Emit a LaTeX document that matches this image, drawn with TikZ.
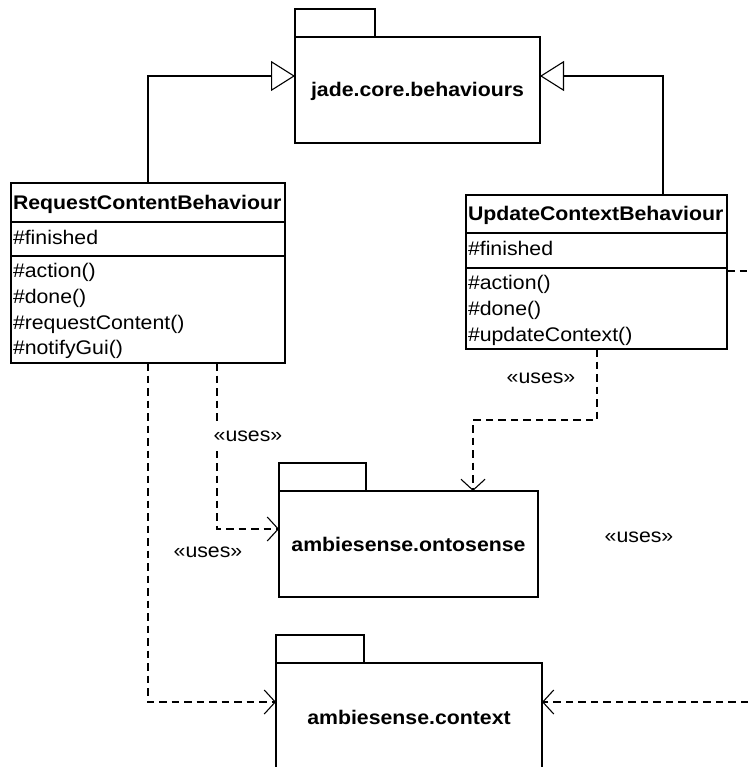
\documentclass[tikz,border=0pt]{standalone}
\usepackage{fontspec}
\setmainfont{Liberation Sans}[FakeStretch=1.08]
\usetikzlibrary{arrows.meta}

\begin{document}
\begin{tikzpicture}[x=1pt,y=-1pt,
  every node/.style={font=\fontsize{19.7}{25.5}\selectfont, inner sep=0pt, outer sep=0pt},
  box/.style={draw, line width=1.3pt, rectangle, anchor=north west},
  pkgname/.style={box, font=\fontsize{19.7}{25.5}\selectfont\bfseries, text height=14pt, text depth=0pt},
  divider/.style={line width=1.3pt},
  member/.style={anchor=base west},
  classname/.style={anchor=base west, font=\fontsize{19.7}{25.5}\selectfont\bfseries},
  gen/.style={line width=1.1pt, -{Triangle[open, length=24pt, width=30pt]}},
  dep/.style={line width=1.1pt, dash pattern=on 7.5pt off 5pt, -{Straight Barb[length=11pt, width=24pt]}},
  deptail/.style={line width=1.1pt, dash pattern=on 7.5pt off 5pt},
  uses/.style={text depth=0pt}
]
\useasboundingbox (0,0) rectangle (748,767);

% packages
\node[box, minimum width=80, minimum height=28] (jadeTab) at (295,9) {};
\node[pkgname, minimum width=245, minimum height=106] (jade) at (295,37) {jade.core.behaviours};

\node[box, minimum width=87, minimum height=28] (ontoTab) at (279,463) {};
\node[pkgname, minimum width=259, minimum height=106] (onto) at (279,491) {ambiesense.ontosense};

\node[box, minimum width=88, minimum height=28] (ctxTab) at (276,635) {};
\node[pkgname, minimum width=266, minimum height=108] (ctx) at (276,663) {ambiesense.context};

% class RequestContentBehaviour
\node[box, minimum width=274, minimum height=180] (rcb) at (11,183) {};
\draw[divider] ([yshift=-39pt]rcb.north west) -- ([yshift=-39pt]rcb.north east);
\draw[divider] ([yshift=-73pt]rcb.north west) -- ([yshift=-73pt]rcb.north east);
\node[classname] (rcbName) at (13,210) {RequestContentBehaviour};
\node[member] (rcbA1) at (13,244) {\#finished};
\node[member] (rcbO1) at (13,277) {\#action()};
\node[member] (rcbO2) at (13,303) {\#done()};
\node[member] (rcbO3) at (13,329) {\#requestContent()};
\node[member] (rcbO4) at (13,354) {\#notifyGui()};

% class UpdateContextBehaviour
\node[box, minimum width=261, minimum height=154] (ucb) at (466,195) {};
\draw[divider] ([yshift=-38pt]ucb.north west) -- ([yshift=-38pt]ucb.north east);
\draw[divider] ([yshift=-73pt]ucb.north west) -- ([yshift=-73pt]ucb.north east);
\node[classname] (ucbName) at (468,220) {UpdateContextBehaviour};
\node[member] (ucbA1) at (468,255) {\#finished};
\node[member] (ucbO1) at (468,289) {\#action()};
\node[member] (ucbO2) at (468,315) {\#done()};
\node[member] (ucbO3) at (468,341) {\#updateContext()};

% generalizations
\draw[gen] ([xshift=137pt]rcb.north west) |- ([yshift=14pt]jade.west);
\draw[gen] ([xshift=197pt]ucb.north west) |- ([yshift=14pt]jade.east);

% dependencies
\coordinate (ucbOut) at (748,271);
\coordinate (ctxIn) at (748,702);
\draw[deptail] ([yshift=-76pt]ucb.north east) -- (ucbOut);
\draw[dep] ([xshift=131pt]ucb.south west) -- ++(0,71) -| ([xshift=194pt]onto.north west);
\draw[dep] ([xshift=206pt]rcb.south west) |- ([yshift=15pt]onto.west);
\draw[dep] ([xshift=137pt]rcb.south west) |- ([yshift=-39pt]ctx.north west);
\draw[dep] (ctxIn) -- ([yshift=-39pt]ctx.north east);

% stereotype labels
\node[uses] (u1) at (541,378) {«uses»};
\node[uses, fill=white, inner ysep=10pt, inner xsep=1pt] (u2) at (248,436) {«uses»};
\node[uses] (u3) at (208,552) {«uses»};
\node[uses] (u4) at (639,537) {«uses»};
\end{tikzpicture}
\end{document}
